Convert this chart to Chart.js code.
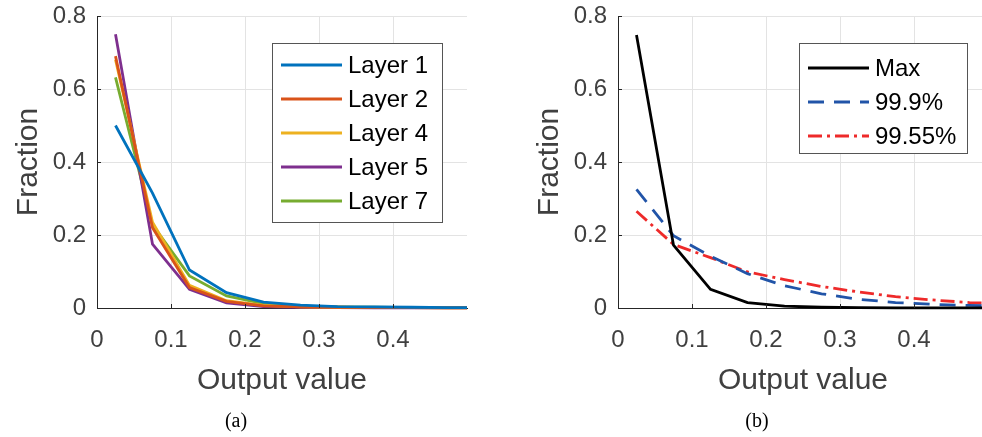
<!DOCTYPE html>
<html>
<head>
<meta charset="utf-8">
<script src="https://cdn.jsdelivr.net/npm/chart.js@4"></script>
<style>
    body { margin: 0; background: #fff; }
    #wrap { position: relative; width: 982px; height: 437px; overflow: hidden; background: #fff; }
    canvas { position: absolute; top: 0; }
    .sub { position: absolute; top: 409px; font-family: "Liberation Serif", "Times New Roman", serif; font-size: 20px; color: #000; transform: translateX(-50%); }
</style>
</head>
<body>
<div id="wrap">
    <canvas id="chart_a" width="490" height="437" style="left:0px"></canvas>
    <canvas id="chart_b" width="490" height="437" style="left:521px"></canvas>
    <div class="sub" style="left:236px">(a)</div>
    <div class="sub" style="left:757px">(b)</div>
</div>
<script>
// bin centres of the histogram
const bins = [0.025, 0.075, 0.125, 0.175, 0.225, 0.275, 0.325, 0.375, 0.425, 0.475, 0.525];
const x_ticks = [0, 0.1, 0.2, 0.3, 0.4];

// (a) fraction per layer
const layer_labels = ['Layer 1', 'Layer 2', 'Layer 4', 'Layer 5', 'Layer 7'];
const layer1 = [0.500, 0.315, 0.104, 0.042, 0.016, 0.008, 0.004, 0.003, 0.002, 0.001, 0.001];
const layer2 = [0.690, 0.220, 0.056, 0.018, 0.006, 0.003, 0.002, 0.001, 0.001, 0.0005, 0.0005];
const layer4 = [0.680, 0.235, 0.062, 0.020, 0.007, 0.003, 0.002, 0.001, 0.001, 0.0005, 0.0005];
const layer5 = [0.750, 0.175, 0.051, 0.014, 0.004, 0.002, 0.001, 0.0005, 0.0003, 0.0002, 0.0002];
const layer7 = [0.632, 0.228, 0.088, 0.033, 0.012, 0.005, 0.003, 0.002, 0.001, 0.001, 0.001];

// (b) fraction per clipping threshold
const clip_labels = ['Max', '99.9%', '99.55%'];
const clip_max = [0.748, 0.172, 0.051, 0.015, 0.005, 0.002, 0.001, 0.0005, 0.0003, 0.0002, 0.0001];
const clip_999 = [0.325, 0.198, 0.142, 0.094, 0.061, 0.039, 0.024, 0.015, 0.010, 0.007, 0.005];
const clip_9955 = [0.265, 0.174, 0.138, 0.099, 0.078, 0.059, 0.044, 0.031, 0.022, 0.015, 0.011];

const tick_font = { family: '"Liberation Sans", Arial, sans-serif', size: 24 };
const title_font = { family: '"Liberation Sans", Arial, sans-serif', size: 30 };
const axis_grey = '#404040';

function points(values) {
    return values.map((v, i) => ({ x: bins[i], y: v }));
}

function line(label, values, color, dash) {
    return {
        label: label,
        data: points(values),
        borderColor: color,
        backgroundColor: color,
        borderWidth: 2.8,
        borderDash: dash || [],
        pointRadius: 0,
        tension: 0,
        fill: false,
        clip: { left: 0, right: 0, top: 5, bottom: 5 }
    };
}

// small tick marks pointing into the plot
const innerTicks = {
    id: 'innerTicks',
    afterDraw(chart) {
        let ctx = chart.ctx;
        let area = chart.chartArea;
        ctx.save();
        ctx.strokeStyle = '#262626';
        ctx.lineWidth = 1;
        ctx.beginPath();
        chart.scales.x.ticks.forEach(t => {
            let px = Math.round(chart.scales.x.getPixelForValue(t.value)) + 0.5;
            ctx.moveTo(px, area.bottom);
            ctx.lineTo(px, area.bottom - 4);
        });
        chart.scales.y.ticks.forEach(t => {
            let py = Math.round(chart.scales.y.getPixelForValue(t.value)) + 0.5;
            ctx.moveTo(area.left, py);
            ctx.lineTo(area.left + 4, py);
        });
        ctx.stroke();
        ctx.restore();
    }
};

// legend box drawn inside the plot, matlab style
const boxLegend = {
    id: 'boxLegend',
    afterDatasetsDraw(chart, args, opts) {
        let ctx = chart.ctx;
        ctx.save();
        ctx.fillStyle = '#fff';
        ctx.fillRect(opts.x, opts.y, opts.w, opts.h);
        ctx.strokeStyle = '#555';
        ctx.lineWidth = 1;
        ctx.strokeRect(opts.x + 0.5, opts.y + 0.5, opts.w, opts.h);
        chart.data.datasets.forEach((ds, i) => {
            let y = opts.firstRow + i * opts.rowGap;
            ctx.beginPath();
            ctx.setLineDash(ds.borderDash);
            ctx.strokeStyle = ds.borderColor;
            ctx.lineWidth = ds.borderWidth;
            ctx.moveTo(opts.x + 9, y);
            ctx.lineTo(opts.x + 70, y);
            ctx.stroke();
            ctx.setLineDash([]);
            ctx.fillStyle = '#000';
            ctx.font = '24px "Liberation Sans", Arial, sans-serif';
            ctx.textBaseline = 'middle';
            ctx.fillText(ds.label, opts.x + 76, y + 1);
        });
        ctx.restore();
    }
};

function make_chart(id, datasets, legend) {
    let config = {
        type: 'line',
        data: { datasets: datasets },
        options: {
            responsive: false,
            animation: false,
            layout: { padding: { left: 0, right: 23, top: 16, bottom: 0 } },
            plugins: {
                legend: { display: false },
                tooltip: { enabled: false },
                boxLegend: legend
            },
            scales: {
                x: {
                    type: 'linear',
                    min: 0,
                    max: 0.5,
                    afterBuildTicks: s => { s.ticks = x_ticks.map(v => ({ value: v })); },
                    afterFit: s => { s.height = 129; },
                    grid: { color: '#e3e3e3', drawTicks: false },
                    border: { color: '#262626', width: 1 },
                    ticks: { font: tick_font, color: axis_grey, padding: 18, maxRotation: 0 },
                    title: { display: true, text: 'Output value', font: title_font, color: axis_grey, padding: { top: 0, bottom: 38 } }
                },
                y: {
                    min: 0,
                    max: 0.8,
                    ticks: { stepSize: 0.2, font: tick_font, color: axis_grey, padding: 11 },
                    afterFit: s => {
                        s.width = 97;
                        // keep the plot top pinned, labels may overhang
                        s.paddingTop = 0;
                        s.paddingBottom = 0;
                    },
                    grid: { color: '#e3e3e3', drawTicks: false },
                    border: { color: '#262626', width: 1 },
                    title: { display: true, text: 'Fraction', font: title_font, color: axis_grey, padding: { top: 11, bottom: 0 } }
                }
            }
        },
        plugins: [innerTicks, boxLegend]
    };
    return new Chart(document.getElementById(id), config);
}

make_chart('chart_a', [
    line(layer_labels[0], layer1, '#0072BD'),
    line(layer_labels[1], layer2, '#D95319'),
    line(layer_labels[2], layer4, '#EDB120'),
    line(layer_labels[3], layer5, '#7E2F8E'),
    line(layer_labels[4], layer7, '#77AC30')
], { x: 272, y: 43, w: 170, h: 179, firstRow: 65, rowGap: 34 });

make_chart('chart_b', [
    line(clip_labels[0], clip_max, '#000000'),
    line(clip_labels[1], clip_999, '#2154A8', [16, 10]),
    line(clip_labels[2], clip_9955, '#EE2A2A', [14, 5, 3, 5])
], { x: 278, y: 43, w: 168, h: 110, firstRow: 68, rowGap: 34 });
</script>
</body>
</html>
